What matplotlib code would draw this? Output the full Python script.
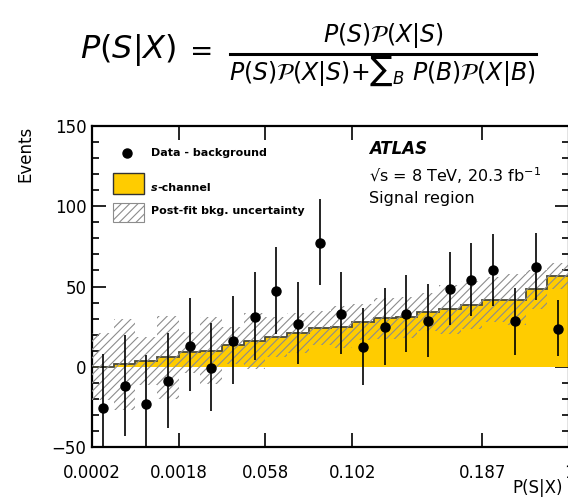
import numpy as np
import matplotlib
matplotlib.use('Agg')
import matplotlib.pyplot as plt
from matplotlib.lines import Line2D
from matplotlib.patches import Rectangle
from matplotlib.ticker import MultipleLocator

plt.rcParams['font.family'] = ['DejaVu Sans']
plt.rcParams['mathtext.fontset'] = 'dejavusans'
plt.rcParams['hatch.linewidth'] = 0.8

# bin labels on the x axis (placed at bin edges)
tick_edges = [0, 4, 8, 12, 18, 22]
tick_labels = ['0.0002', '0.0018', '0.058', '0.102', '0.187', '1']

# s-channel template per bin
s_channel = [0.0, 1.5, 3.7, 5.8, 8.9, 10.1, 13.4, 15.8, 18.3, 21.0, 24.3,
             24.9, 27.8, 30.1, 30.7, 34.1, 35.7, 38.4, 41.9, 41.9, 48.2, 56.7]
# post-fit background uncertainty (half width)
bkg_unc = [21.0, 28.5, 15.0, 26.0, 13.0, 21.0, 11.6, 17.5, 12.4, 12.2, 10.5,
           13.0, 11.0, 12.5, 13.0, 12.0, 15.0, 15.0, 14.0, 16.0, 12.0, 8.0]
# data - background
data = [-25.5, -12.0, -23.0, -9.0, 13.2, -0.6, 16.0, 30.9, 47.2, 26.6, 76.8,
        32.8, 12.1, 24.7, 33.0, 28.2, 48.4, 54.2, 60.2, 28.2, 62.1, 23.7]
err_up = [33.2, 31.7, 30.3, 29.8, 29.4, 27.6, 28.0, 27.9, 27.6, 26.4, 27.9,
          26.0, 24.6, 24.3, 24.2, 23.3, 23.0, 22.8, 22.6, 20.8, 21.0, 17.6]
err_dn = [30.0, 31.0, 30.0, 29.0, 28.2, 26.8, 26.8, 26.7, 26.7, 25.1, 25.8,
          25.0, 23.5, 23.7, 23.6, 22.4, 22.4, 22.4, 22.2, 20.9, 20.5, 16.8]

W, H = 568, 498
fig = plt.figure(figsize=(W / 100, H / 100), dpi=100)

def fx(x):
    return x / W

def fy(y):
    return 1 - y / H

ax = fig.add_axes([fx(92), fy(447), fx(569) - fx(92), fy(126) - fy(447)])

nb = len(s_channel)
edges = np.arange(nb + 1)
centers = edges[:-1] + 0.5
s = np.array(s_channel)
u = np.array(bkg_unc)

ax.stairs(s, edges, baseline=0, fill=True, facecolor='#ffcc00',
          edgecolor='#4a4a3a', linewidth=1.3, zorder=2)
ax.bar(centers, 2 * u, bottom=s - u, width=1.0, fill=False, hatch='////',
       edgecolor='#8c8c8c', linewidth=0, zorder=3)
ax.errorbar(centers, data, yerr=[err_dn, err_up], fmt='o', color='black',
            markersize=6.5, elinewidth=1.2, capsize=0, zorder=4)

ax.set_xlim(0, nb)
ax.set_ylim(-50, 150)
ax.set_xticks(tick_edges)
ax.set_xticklabels(tick_labels)
ax.yaxis.set_major_locator(MultipleLocator(50))
ax.yaxis.set_minor_locator(MultipleLocator(10))
ax.tick_params(axis='both', which='both', direction='in', top=True, right=True,
               labelsize=12, width=1.2)
ax.tick_params(axis='both', which='major', length=10)
ax.tick_params(axis='y', which='minor', length=5)
ax.tick_params(axis='x', pad=12)
ax.tick_params(axis='y', pad=4)
for sp in ax.spines.values():
    sp.set_linewidth(1.6)

ax.set_ylabel('Events', fontsize=12, loc='top')
ax.yaxis.set_label_coords(-0.12, 1.0)
ax.set_xlabel('P(S|X)', fontsize=12, labelpad=1)
ax.xaxis.set_label_coords((563 - 92) / (569 - 92), -0.1)
ax.xaxis.label.set_ha('right')
ax.xaxis.label.set_va('top')

# legend, drawn by hand in figure pixels
fig.add_artist(Line2D([fx(127)], [fy(153)], marker='o', color='black',
                      markersize=6.5, linestyle='none'))
fig.add_artist(Rectangle((fx(113), fy(194)), fx(31), 21 / H,
                         facecolor='#ffcc00', edgecolor='#333333', linewidth=1,
                         transform=fig.transFigure))
fig.add_artist(Rectangle((fx(113), fy(222)), fx(31), 19 / H, fill=False,
                         hatch='////', edgecolor='#8c8c8c', linewidth=0.8,
                         transform=fig.transFigure))
fig.text(fx(151), fy(153), 'Data - background', fontsize=8, fontweight='bold',
         va='center')
fig.text(fx(151), fy(188), 's', fontsize=8, fontweight='bold',
         style='italic', va='center')
fig.text(fx(157.5), fy(188), '-channel', fontsize=8, fontweight='bold',
         va='center')
fig.text(fx(151), fy(211), 'Post-fit bkg. uncertainty', fontsize=8,
         fontweight='bold', va='center')

fig.text(fx(369), fy(149), 'ATLAS', fontsize=12, fontweight='bold',
         style='italic', va='center')
fig.text(fx(369), fy(176), '√s = 8 TeV, 20.3 fb$^{-1}$', fontsize=11.5,
         va='center')
fig.text(fx(369), fy(203), 'Signal region', fontsize=11.5, va='baseline')

# formula above the plot
fig.text(fx(80), fy(50), r'$P(S|X)$', fontsize=23, ha='left', va='center')
fig.text(fx(202), fy(52), '=', fontsize=20, ha='center', va='center')
fig.text(fx(383), fy(36), r'$P(S)\mathcal{P}(X|S)$', fontsize=17,
         ha='center', va='center')
fig.text(fx(382), fy(71),
         r'$P(S)\mathcal{P}(X|S)$+∑$_B$ $P(B)\mathcal{P}(X|B)$',
         fontsize=17, ha='center', va='center')
fig.add_artist(Line2D([fx(230), fx(536)], [fy(54), fy(54)], color='black',
                      linewidth=2.2))

fig.savefig('out.png', dpi=100)
